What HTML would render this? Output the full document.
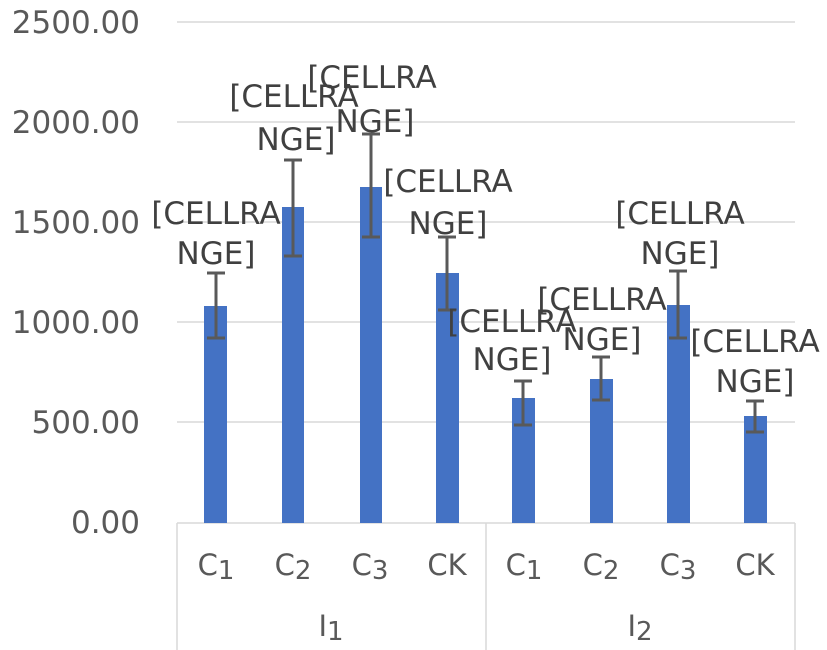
<!DOCTYPE html>
<html><head><meta charset="utf-8"><style>
body{margin:0;background:#fff;}
svg{display:block;font-family:"DejaVu Sans","Liberation Sans",sans-serif;}
</style></head><body>
<svg width="827" height="650" viewBox="0 0 827 650">
<g stroke="#d9d9d9" stroke-width="1.5">
<line x1="177" y1="22" x2="795" y2="22"/>
<line x1="177" y1="122" x2="795" y2="122"/>
<line x1="177" y1="222" x2="795" y2="222"/>
<line x1="177" y1="322" x2="795" y2="322"/>
<line x1="177" y1="422" x2="795" y2="422"/>
<line x1="177" y1="523" x2="795" y2="523"/>
<line x1="177" y1="523" x2="177" y2="650"/>
<line x1="486" y1="523" x2="486" y2="650"/>
<line x1="795" y1="523" x2="795" y2="650"/>
</g>
<g fill="#595959" font-size="31" text-anchor="end">
<text x="140" y="33">2500.00</text>
<text x="140" y="133">2000.00</text>
<text x="140" y="233">1500.00</text>
<text x="140" y="333">1000.00</text>
<text x="140" y="433">500.00</text>
<text x="140" y="533">0.00</text>
</g>
<g fill="#4472c4">
<rect x="204" y="306" width="23" height="217"/>
<rect x="282" y="207" width="22" height="316"/>
<rect x="360" y="187" width="22" height="336"/>
<rect x="436" y="273" width="23" height="250"/>
<rect x="512" y="398" width="23" height="125"/>
<rect x="590" y="379" width="23" height="144"/>
<rect x="667" y="305" width="23" height="218"/>
<rect x="744" y="416" width="23" height="107"/>
</g>
<g stroke="#595959" stroke-width="3">
<path d="M216 273V338M207 273H225M207 338H225"/>
<path d="M293 160V256M284 160H302M284 256H302"/>
<path d="M371 134V237M362 134H380M362 237H380"/>
<path d="M447 237V310M438 237H456M438 310H456"/>
<path d="M523 381V425M514 381H532M514 425H532"/>
<path d="M601 357V400M592 357H610M592 400H610"/>
<path d="M678 271V338M669 271H687M669 338H687"/>
<path d="M755 401V432M746 401H764M746 432H764"/>
</g>
<g fill="#404040" font-size="31" text-anchor="middle">
<text x="216" y="224">[CELLRA</text><text x="216" y="264">NGE]</text>
<text x="294" y="107">[CELLRA</text><text x="296" y="150">NGE]</text>
<text x="372" y="88">[CELLRA</text><text x="375" y="132">NGE]</text>
<text x="448" y="192">[CELLRA</text><text x="448" y="234">NGE]</text>
<text x="512" y="332">[CELLRA</text><text x="512" y="370">NGE]</text>
<text x="602" y="310">[CELLRA</text><text x="602" y="350">NGE]</text>
<text x="680" y="224">[CELLRA</text><text x="680" y="264">NGE]</text>
<text x="755" y="352">[CELLRA</text><text x="755" y="392">NGE]</text>
</g>
<g fill="#595959" font-size="29" text-anchor="middle">
<text x="216" y="575">C<tspan font-size="26" dy="4">1</tspan></text>
<text x="293" y="575">C<tspan font-size="26" dy="4">2</tspan></text>
<text x="370" y="575">C<tspan font-size="26" dy="4">3</tspan></text>
<text x="447" y="575">CK</text>
<text x="524" y="575">C<tspan font-size="26" dy="4">1</tspan></text>
<text x="601" y="575">C<tspan font-size="26" dy="4">2</tspan></text>
<text x="678" y="575">C<tspan font-size="26" dy="4">3</tspan></text>
<text x="755" y="575">CK</text>
<text x="331" y="636">I<tspan font-size="26" dy="4">1</tspan></text>
<text x="640" y="636">I<tspan font-size="26" dy="4">2</tspan></text>
</g>
</svg>
</body></html>
